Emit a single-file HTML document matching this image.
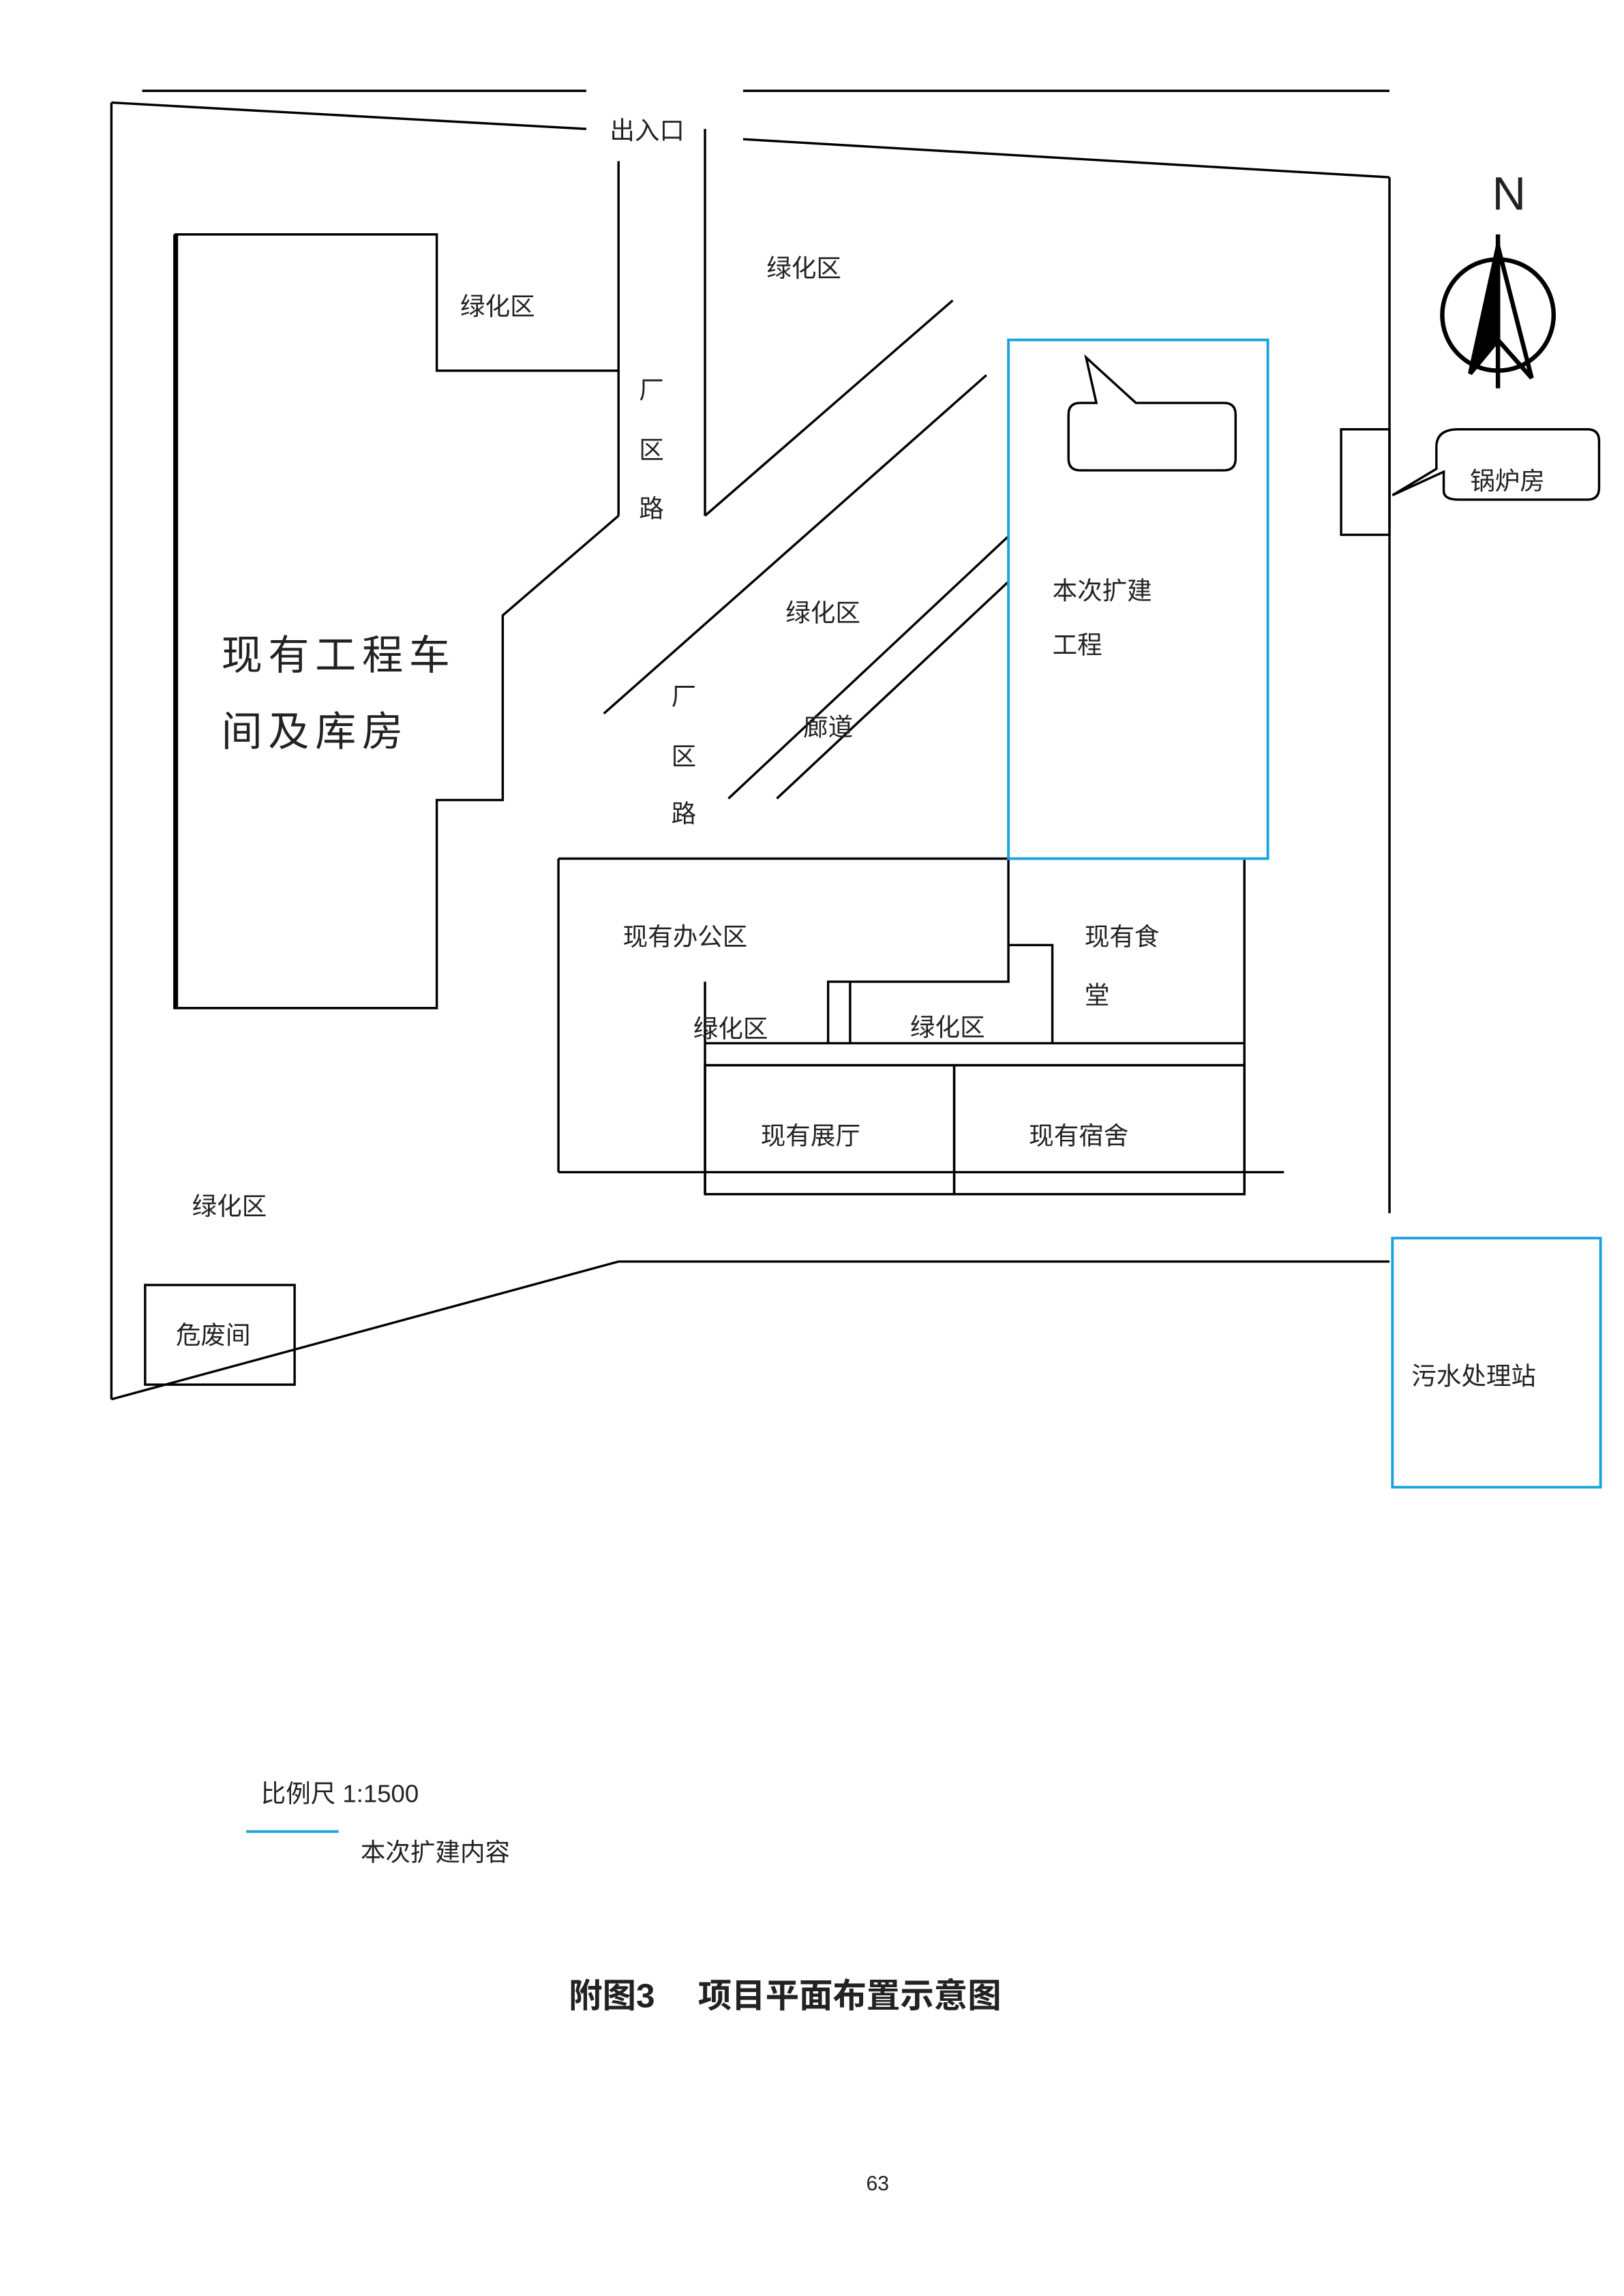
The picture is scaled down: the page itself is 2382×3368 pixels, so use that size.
<!DOCTYPE html>
<html><head><meta charset="utf-8"><style>
html,body{margin:0;padding:0;background:#fff;}
svg{display:block;}
text{font-family:"Liberation Sans","Noto Sans CJK SC",sans-serif;fill:#222;}
</style></head><body>
<svg width="2382" height="3368" viewBox="0 0 1108 1567" preserveAspectRatio="none" xmlns="http://www.w3.org/2000/svg">
<g stroke="#000" stroke-width="1.6" fill="none">
<line x1="97" y1="62" x2="400" y2="62"/>
<line x1="507" y1="62" x2="948" y2="62"/>
<line x1="76" y1="70" x2="400" y2="88"/>
<line x1="507" y1="95" x2="948" y2="121"/>
<line x1="948" y1="121" x2="948" y2="828"/>
<line x1="76" y1="70" x2="76" y2="955"/>
<polyline points="76,955 422,861 948,861"/>
<line x1="422" y1="110" x2="422" y2="352"/>
<line x1="481" y1="88" x2="481" y2="352"/>
<line x1="481" y1="352" x2="650" y2="205"/>
<line x1="412" y1="487" x2="673" y2="256"/>
<polyline points="119,160 298,160 298,253 422,253"/>
<polyline points="422,352 343,420 343,546 298,546 298,688 119,688 119,160"/>
<line x1="120" y1="160" x2="120" y2="688" stroke-width="3"/>
<line x1="497" y1="545" x2="688" y2="366"/>
<line x1="530" y1="545" x2="688" y2="397"/>
<line x1="381" y1="586" x2="688" y2="586"/>
<line x1="381" y1="586" x2="381" y2="800"/>
<polyline points="688,586 688,670 565,670 565,712"/>
<line x1="580" y1="670" x2="580" y2="712"/>
<polyline points="688,645 718,645 718,712"/>
<line x1="849" y1="586" x2="849" y2="815"/>
<line x1="481" y1="712" x2="849" y2="712"/>
<line x1="481" y1="727" x2="849" y2="727"/>
<line x1="481" y1="670" x2="481" y2="815" />
<rect x="481" y="727" width="170" height="88"/>
<rect x="651" y="727" width="198" height="88"/>
<line x1="381" y1="800" x2="876" y2="800"/>
<rect x="915" y="293" width="33" height="72"/>
<path d="M741,244 L775,275 L835,275 Q843,275 843,283 L843,313 Q843,321 835,321 L737,321 Q729,321 729,313 L729,283 Q729,275 737,275 L748,275 Z"/>
<path d="M950,338 L985,322 L985,335 Q985,341 995,341 L1083,341 Q1091,341 1091,333 L1091,301 Q1091,293 1083,293 L995,293 Q980,293 980,305 L980,320 Z"/>
<rect x="99" y="877" width="102" height="68"/>
</g>
<g stroke="#1aa3e0" stroke-width="1.8" fill="none">
<rect x="688" y="232" width="177" height="354"/>
<rect x="950" y="845" width="142" height="170"/>
<line x1="168" y1="1250" x2="231" y2="1250"/>
</g>
<g stroke="#000" stroke-width="3" fill="none">
<circle cx="1022" cy="215" r="38"/>
<line x1="1022" y1="160" x2="1022" y2="265"/>
<polygon points="1022,168 1003,255 1022,232" fill="#000"/>
<polygon points="1022,168 1045,258 1022,232"/>
</g>
<text x="1018" y="143" font-size="32">N</text>
<g font-size="17">
<text x="416" y="95">出入口</text>
<text x="523" y="189">绿化区</text>
<text x="314" y="215">绿化区</text>
<text x="436" y="272">厂</text>
<text x="436" y="313">区</text>
<text x="436" y="353">路</text>
<text x="536" y="424">绿化区</text>
<text x="458" y="481">厂</text>
<text x="458" y="522">区</text>
<text x="458" y="561">路</text>
<text x="548" y="502">廊道</text>
<text x="718" y="409">本次扩建</text>
<text x="718" y="446">工程</text>
<text x="1003" y="334">锅炉房</text>
<text x="425" y="645">现有办公区</text>
<text x="740" y="645">现有食</text>
<text x="740" y="685">堂</text>
<text x="473" y="708">绿化区</text>
<text x="621" y="707">绿化区</text>
<text x="519" y="781">现有展厅</text>
<text x="702" y="781">现有宿舍</text>
<text x="131" y="829">绿化区</text>
<text x="120" y="917">危废间</text>
<text x="963" y="945">污水处理站</text>
<text x="178" y="1230">比例尺 1:1500</text>
<text x="246" y="1270">本次扩建内容</text>
</g>
<text x="151" y="457" font-size="28" letter-spacing="4">现有工程车</text>
<text x="151" y="509" font-size="28" letter-spacing="4">间及库房</text>
<text x="388" y="1370" font-size="23" font-weight="bold">附图3　 项目平面布置示意图</text>
<text x="591" y="1495" font-size="14">63</text>
</svg>
</body></html>
